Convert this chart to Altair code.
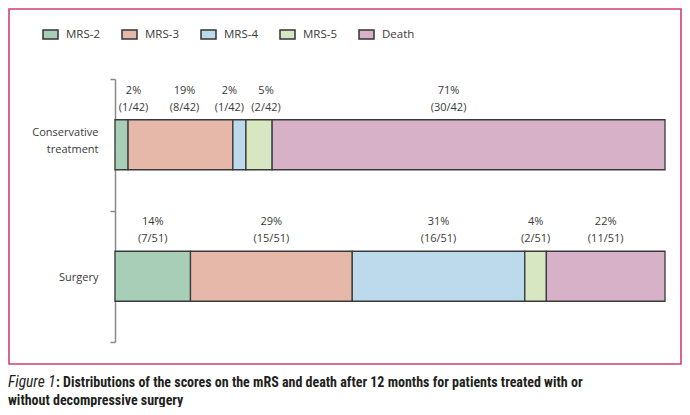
import altair as alt
import pandas as pd

groups = ["Conservative treatment", "Surgery"]
categories = ["MRS-2", "MRS-3", "MRS-4", "MRS-5", "Death"]
conservative_counts = [1, 8, 1, 2, 30]
conservative_total = 42
surgery_counts = [7, 15, 16, 2, 11]
surgery_total = 51
conservative_pct = [2, 19, 2, 5, 71]
surgery_pct = [14, 29, 31, 4, 22]
colors = ["#a9ceb8", "#e6b8aa", "#bcdaeb", "#d6e7c2", "#d7b1c8"]
# label nudges (px) the original used to keep crowded labels apart
conservative_label_nudge = [12, 4, -10, 7, -20]
surgery_label_nudge = [0, 0, 0, 0, 0]

PLOT_W = 550
PLOT_H = 263

rows = []
for g, counts, total, pcts, nudges in [
    (groups[0], conservative_counts, conservative_total, conservative_pct, conservative_label_nudge),
    (groups[1], surgery_counts, surgery_total, surgery_pct, surgery_label_nudge),
]:
    for i, (c, n, p, d) in enumerate(zip(categories, counts, pcts, nudges)):
        rows.append({
            "group": g, "category": c, "order": i, "count": n, "total": total,
            "share": n / total, "label": f"{p}%\n({n}/{total})", "nudge": d / PLOT_W,
        })
df = pd.DataFrame(rows)

FONT = "Open Sans"
TXT = "#3a3a3a"

y_enc = alt.Y(
    "group:N", sort=groups, title=None,
    scale=alt.Scale(paddingInner=0, paddingOuter=0),
    axis=alt.Axis(
        labelExpr="split(datum.label, ' ')", labelFont=FONT, labelFontSize=11,
        labelColor=TXT, labelLineHeight=17, labelPadding=12,
        labelOffset={"condition": {"test": "datum.value == 'Conservative treatment'", "value": -12}, "value": 1},
        tickBand="extent", tickSize=5, tickColor="#8a8a8a", tickWidth=1.5,
        domainColor="#8a8a8a", domainWidth=1.5, grid=False,
    ),
)

bars = alt.Chart(df).mark_bar(height=50, stroke="#3a3a3a", strokeWidth=1.3).encode(
    x=alt.X("share:Q", stack="zero", scale=alt.Scale(domain=[0, 1], nice=False), axis=None),
    y=y_enc,
    color=alt.Color(
        "category:N", sort=categories,
        scale=alt.Scale(domain=categories, range=colors),
        legend=alt.Legend(
            title=None, orient="none", legendX=-73, legendY=-53, direction="horizontal",
            columns=5, gridAlign="all", columnPadding=18, padding=0,
            symbolType="M-1,-0.6H1V0.6H-1Z", symbolSize=225,
            symbolStrokeColor="#333333", symbolStrokeWidth=1.5, symbolOpacity=1,
            labelFont=FONT, labelFontSize=11.5, labelColor=TXT, labelOffset=7,
        ),
    ),
    order=alt.Order("order:Q"),
)

labels = alt.Chart(df).transform_stack(
    stack="share", groupby=["group"], as_=["x0", "x1"],
    sort=[alt.SortField("order", order="ascending")],
).transform_calculate(
    mid="(datum.x0 + datum.x1) / 2 + datum.nudge"
).mark_text(
    lineBreak="\n", baseline="bottom", dy=-49, fontSize=11, lineHeight=17,
    font=FONT, color=TXT, align="center",
).encode(
    x=alt.X("mid:Q", scale=alt.Scale(domain=[0, 1], nice=False)),
    y=alt.Y("group:N", sort=groups),
    text="label:N",
)

one = pd.DataFrame({"a": [0]})
border = alt.Chart(one).mark_rect(
    fillOpacity=0, stroke="#d0406e", strokeWidth=1.6
).encode(
    x=alt.value(-106), x2=alt.value(566), y=alt.value(-70), y2=alt.value(285)
)

CAP_FONT = "Liberation Sans Narrow, Roboto Condensed, Arial Narrow, Roboto"
cap1a = alt.Chart(one).mark_text(
    text="Figure 1", font=CAP_FONT, fontStyle="italic", fontSize=15.5,
    align="left", baseline="alphabetic", color="#231f20",
).encode(x=alt.value(-107), y=alt.value(308))
cap1b = alt.Chart(one).mark_text(
    text=": Distributions of the scores on the mRS and death after 12 months for patients treated with or",
    font=CAP_FONT, fontWeight="bold", fontSize=14,
    align="left", baseline="alphabetic", color="#231f20",
).encode(x=alt.value(-59), y=alt.value(308))
cap2 = alt.Chart(one).mark_text(
    text="without decompressive surgery",
    font=CAP_FONT, fontWeight="bold", fontSize=14,
    align="left", baseline="alphabetic", color="#231f20",
).encode(x=alt.value(-107), y=alt.value(326))

chart = alt.layer(border, bars, labels, cap1a, cap1b, cap2).properties(
    width=PLOT_W, height=PLOT_H,
    padding={"left": 107, "top": 71, "right": 17, "bottom": 65},
    autosize="none", background="white",
).configure_view(stroke=None)

chart.save("out.html", embed_options={"renderer": "svg", "actions": False})
